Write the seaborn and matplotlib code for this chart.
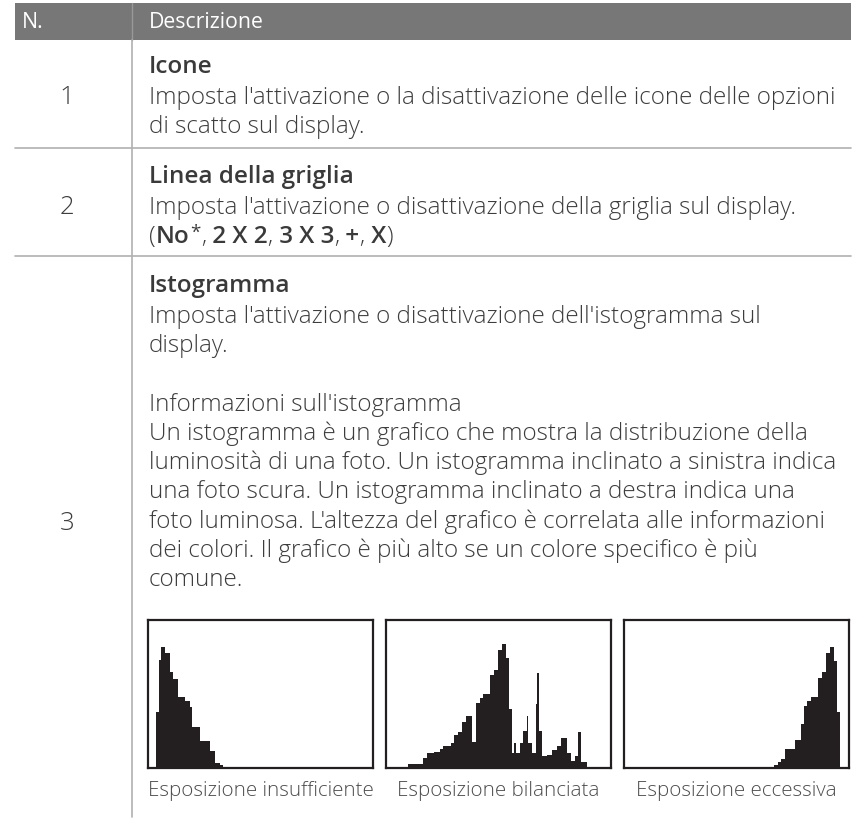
import numpy as np
import pandas as pd
import matplotlib
matplotlib.use("Agg")
import matplotlib.pyplot as plt
import seaborn as sns

sns.set_theme(style="white")
plt.rcParams["font.family"] = ["Open Sans", "DejaVu Sans"]

# ---- testo della tabella ----
header = ["N.", "Descrizione"]
row_numbers = ["1", "2", "3"]
row_titles = ["Icone", "Linea della griglia", "Istogramma"]
row1_body = [
    "Imposta l'attivazione o la disattivazione delle icone delle opzioni",
    "di scatto sul display.",
]
row2_body = ["Imposta l'attivazione o disattivazione della griglia sul display."]
row2_options = [("(", "light"), ("No", "semibold"), ("*", "sup"), (",", "light"),
                (" 2 X 2", "semibold"), (",", "light"), (" 3 X 3", "semibold"),
                (",", "light"), (" +", "semibold"), (",", "light"), (" X", "semibold"),
                (")", "light")]
row3_body = [
    "Imposta l'attivazione o disattivazione dell'istogramma sul",
    "display.",
    "",
    "Informazioni sull'istogramma",
    "Un istogramma è un grafico che mostra la distribuzione della",
    "luminosità di una foto. Un istogramma inclinato a sinistra indica",
    "una foto scura. Un istogramma inclinato a destra indica una",
    "foto luminosa. L'altezza del grafico è correlata alle informazioni",
    "dei colori. Il grafico è più alto se un colore specifico è più",
    "comune.",
]
captions = ["Esposizione insufficiente", "Esposizione bilanciata", "Esposizione eccessiva"]

# ---- istogrammi (livello di luminosità 0-255, altezza relativa) ----
under_edges = [8.7, 12.6, 15.2, 19.0, 24.7, 28.5, 34.2, 41.8, 47.6, 49.5, 59.0,
               70.4, 76.1, 81.8, 84.8]
under_heights = [0.38, 0.73, 0.82, 0.78, 0.65, 0.60, 0.48, 0.45, 0.41, 0.28,
                 0.185, 0.115, 0.036, 0.018]

balanced_edges = [25.4, 41.7, 46.3, 55.0, 61.4, 65.2, 74.0, 77.8, 82.3, 86.9,
                  90.6, 97.5, 102.4, 107.0, 110.8, 118.3, 123.3, 127.8, 131.6,
                  136.2, 140.0, 143.0, 146.0, 147.5, 152.5, 156.3, 160.1, 161.9,
                  165.7, 170.7, 172.2, 174.5, 177.9, 182.8, 188.5, 194.2, 199.1,
                  205.6, 210.1, 215.0, 218.1, 221.9, 228.3]
balanced_heights = [0.03, 0.07, 0.10, 0.11, 0.125, 0.15, 0.17, 0.22, 0.24, 0.31,
                    0.35, 0.175, 0.44, 0.47, 0.50, 0.625, 0.66, 0.80, 0.84, 0.74,
                    0.40, 0.10, 0.17, 0.10, 0.17, 0.25, 0.35, 0.17, 0.10, 0.43,
                    0.64, 0.25, 0.08, 0.09, 0.12, 0.15, 0.20, 0.10, 0.045, 0.08,
                    0.24, 0.04]

over_edges = [170.3, 174.8, 179.0, 183.5, 194.8, 201.5, 205.3, 207.9, 212.8,
              220.3, 224.8, 229.4, 234.2, 238.8, 241.8, 245.5]
over_heights = [0.023, 0.04, 0.06, 0.125, 0.19, 0.30, 0.42, 0.455, 0.48, 0.61,
                0.65, 0.78, 0.82, 0.72, 0.38]

W, H = 856, 820
TEXT = "#3d3d3d"
TITLE = "#3a3a3a"
LINE = "#b0b0b0"

fig = plt.figure(figsize=(W / 100, H / 100), dpi=100)
ax = fig.add_axes([0, 0, 1, 1])
ax.set_xlim(0, W)
ax.set_ylim(H, 0)
ax.axis("off")
renderer = fig.canvas.get_renderer()


def fit_size(text, target, base=15, **kw):
    """Dimensione del font per cui il testo occupa circa `target` pixel."""
    t = ax.text(0, 0, text, fontsize=base, **kw)
    w = t.get_window_extent(renderer).width
    t.remove()
    return base * target / w


FS = fit_size(row1_body[0], 694, fontweight="light")
FS_HEAD = fit_size(header[1], 115)
FS_CAP = fit_size(captions[0], 227, fontweight="light")

# intestazione
ax.add_patch(plt.Rectangle((15, 4), 836, 37, facecolor="#777777", edgecolor="none"))
ax.plot([132, 132], [4, 41], color="#999999", lw=1)
ax.text(22, 22, header[0], color="white", fontsize=FS_HEAD, va="center")
ax.text(149, 22, header[1], color="white", fontsize=FS_HEAD, va="center")

# griglia
ax.plot([132, 132], [41, 818], color=LINE, lw=1.2)
for y in [149, 257]:
    ax.plot([15, 851], [y, y], color=LINE, lw=1.2)

# numeri di riga
for num, y in zip(row_numbers, [98, 208, 524]):
    ax.text(67, y, num, color=TEXT, fontsize=FS + 1, fontweight="light",
            ha="center", va="center")

LX, LH = 149, 29.2


def block(y0, title, lines):
    ax.text(LX, y0, title, color=TITLE, fontsize=FS, fontweight="semibold", va="center")
    for i, s in enumerate(lines):
        ax.text(LX, y0 + LH * (i + 1) + 2, s, color=TEXT, fontsize=FS,
                fontweight="light", va="center")


block(67, row_titles[0], row1_body)
block(177, row_titles[1], row2_body)
block(286, row_titles[2], row3_body)

# riga opzioni con pesi misti
x, y = LX, 177 + 2 * LH + 2
for s, kind in row2_options:
    if kind == "sup":
        t = ax.text(x + 1, y - 5, s, color=TEXT, fontsize=FS - 4, va="center")
    else:
        t = ax.text(x, y, s, color=TITLE if kind == "semibold" else TEXT, fontsize=FS,
                    fontweight=kind, va="center")
    x += t.get_window_extent(renderer).width + (1 if kind == "sup" else 0)

# istogrammi
boxes = [148, 386, 624]
hist_data = [(under_edges, under_heights), (balanced_edges, balanced_heights),
             (over_edges, over_heights)]
for x0, (edges, heights), cap in zip(boxes, hist_data, captions):
    hax = fig.add_axes([x0 / W, 1 - 769 / H, 225 / W, 148 / H])
    e = np.array(edges)
    df = pd.DataFrame({"livello": (e[:-1] + e[1:]) / 2, "altezza": heights})
    sns.histplot(data=df, x="livello", weights="altezza", bins=list(edges),
                 element="step", fill=True, color="#231f20", alpha=1,
                 linewidth=0, ax=hax)
    hax.set_xlim(0, 256)
    hax.set_ylim(0, 1)
    hax.set_xticks([])
    hax.set_yticks([])
    hax.set_xlabel("")
    hax.set_ylabel("")
    for sp in hax.spines.values():
        sp.set_visible(True)
        sp.set_color("#231f20")
        sp.set_linewidth(1.6)
    ax.text(x0 + 112.5, 791, cap, color="#4d4d4d", fontsize=FS_CAP,
            fontweight="light", ha="center", va="center")

fig.savefig("out.png", dpi=100)
